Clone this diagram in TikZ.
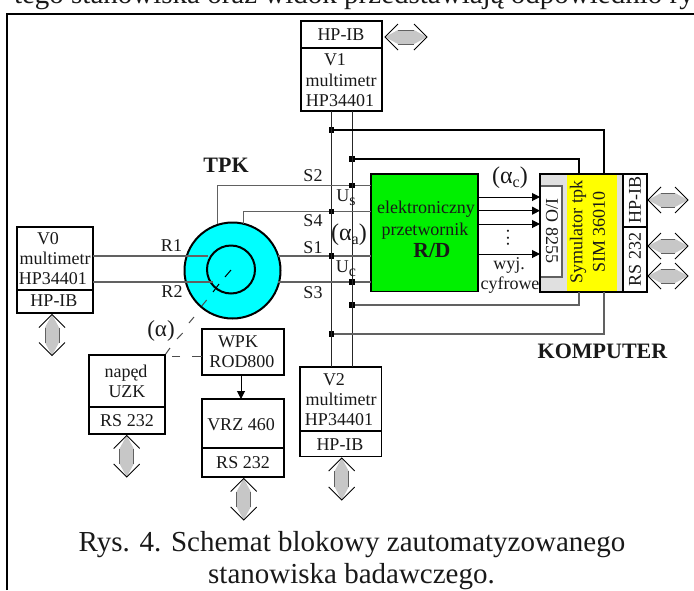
\documentclass[tikz,border=0pt]{standalone}
\usepackage{fontspec}
\setmainfont{Liberation Serif}
\usetikzlibrary{arrows.meta}
\definecolor{wire}{gray}{0.38}
\definecolor{bodygray}{gray}{0.78}
\definecolor{pcgray}{gray}{0.88}
\definecolor{rotorcyan}{RGB}{0,255,255}
\definecolor{simyellow}{RGB}{255,255,0}
\definecolor{rdgreen}{RGB}{0,240,0}
\newcommand{\fs}[1]{\fontsize{#1}{#1}\selectfont}
\newcommand{\sub}[1]{\raisebox{-4pt}{\fs{16}#1}}
% \bx[style]{name}{x1}{y1}{x2}{y2}
\newcommand{\bx}[6][]{%
  \pgfmathsetmacro{\bw}{#5-#3}\pgfmathsetmacro{\bh}{#6-#4}%
  \node[boxshape,#1,minimum width=\bw pt,minimum height=\bh pt] (#2) at ({(#3+#5)/2},{(#4+#6)/2}) {};}
% vertical and horizontal bus arrows
\newcommand{\varr}[4]{% name x ytop ybot
  \coordinate (#1) at (#2,#3);
  \fill[bodygray] (#2,#3) -- (#2-7,#3+13) -- (#2-7,#4-13) -- (#2,#4) -- (#2+7,#4-13) -- (#2+7,#3+13) -- cycle;
  \draw[wire,line width=.8pt] (#2-7,#3+13) -- (#2-7,#4-13) (#2+7,#3+13) -- (#2+7,#4-13);
  \draw[busline] (#2-13,#3+13) -- (#2,#3) -- (#2+13,#3+13) (#2-13,#4-13) -- (#2,#4) -- (#2+13,#4-13);}
\newcommand{\harr}[4]{% name y xleft xright
  \coordinate (#1) at (#3,#2);
  \fill[bodygray] (#3,#2) -- (#3+13,#2-7) -- (#4-13,#2-7) -- (#4,#2) -- (#4-13,#2+7) -- (#3+13,#2+7) -- cycle;
  \draw[wire,line width=.8pt] (#3+13,#2-7) -- (#4-13,#2-7) (#3+13,#2+7) -- (#4-13,#2+7);
  \draw[busline] (#3+13,#2-13) -- (#3,#2) -- (#3+13,#2+13) (#4-13,#2-13) -- (#4,#2) -- (#4-13,#2+13);}
\tikzset{
  boxshape/.style={draw=black,line width=1.8pt,fill=white,inner sep=0pt,outer sep=0pt,rectangle},
  busline/.style={draw=black,line width=.8pt,line join=miter},
  lbl/.style={inner sep=0pt,outer sep=0pt,text=black!90,font=\fs{18},anchor=base},
  rotlbl/.style={lbl,anchor=center},
  boldlbl/.style={lbl,font=\fs{22}\bfseries},
  captxt/.style={inner sep=0pt,outer sep=0pt,text=black!90,font=\fs{29},anchor=base},
  wireline/.style={draw=wire,line width=1.1pt},
  darkline/.style={draw=black!85,line width=1pt},
  thickline/.style={draw=black,line width=1.9pt},
  junction/.style={fill=black,inner sep=0pt,minimum size=5.5pt,rectangle,outer sep=0pt},
  sigarrow/.style={draw=black,line width=1pt,-{Triangle[length=8pt,width=8pt]}},
}
\begin{document}
\begin{tikzpicture}[x=1pt,y=-1pt]
\useasboundingbox (0,0) rectangle (694,590);
% page text and frame
\begin{scope}
\clip (0,0) rectangle (694,590);
\node[captxt,anchor=base west] (toptext) at (14,3) {tego stanowiska oraz widok przedstawiają odpowiednio ry};
\coordinate (frameTL) at (7,14);
\coordinate (frameTR) at (694,14);
\coordinate (frameBL) at (7,590);
\draw[line width=2.2pt,black] (frameBL) -- (frameTL) -- (frameTR);
\end{scope}
% rotor circles
\node[circle,draw=black,line width=2pt,fill=rotorcyan,minimum size=96pt,inner sep=0pt,outer sep=0pt] (tpk) at (232.5,270.5) {};
\node[circle,draw=black,line width=2pt,fill=rotorcyan,minimum size=48pt,inner sep=0pt,outer sep=0pt] (tpkin) at (231,269.5) {};
% boxes
\bx{v1ib}{301}{21}{382}{48}
\bx{v1}{301}{48}{382}{111}
\bx{v0}{17}{227}{93}{290}
\bx{v0ib}{17}{290}{93}{313}
\bx{v2}{300}{367}{381.5}{431}
\bx{v2ib}{300}{431}{381.5}{456.5}
\bx{uzk}{89}{355}{165}{407}
\bx{uzkrs}{89}{407}{165}{434}
\bx{wpk}{202}{329}{284}{375}
\bx{vrz}{202}{399}{284}{448}
\bx{vrzrs}{202}{448}{284}{477}
\bx[fill=rdgreen]{rd}{371}{174}{478}{291.5}
\bx[fill=pcgray]{pc}{540}{174}{647}{292}
\bx[draw=wire,line width=1.2pt]{io}{540}{186}{562}{277}
\bx[draw=none,fill=simyellow]{sim}{566.5}{175}{616.5}{291}
\bx[line width=1.2pt]{pcib}{623}{174}{647}{227}
\bx[line width=1.2pt]{pcrs}{623}{227}{647}{292}
\draw[line width=1.8pt,black] (pc.north west) rectangle (pc.south east);
% junctions
\node[junction] (ja) at (331.5,130) {};
\node[junction] (jb) at (331.5,211.5) {};
\node[junction] (jc) at (331.5,256) {};
\node[junction] (jd) at (331.5,334) {};
\node[junction] (je) at (352,159) {};
\node[junction] (jf) at (352,185.5) {};
\node[junction] (jg) at (352,282) {};
\node[junction] (jh) at (352,305) {};
% measurement buses
\draw[darkline] (v1.south -| ja) -- (v2.north -| ja);
\draw[darkline] (v1.south -| je) -- (v2.north -| je);
% signal wires
\coordinate (s2a) at (217.7,185.5);
\coordinate (s4a) at (243.5,211.5);
\draw[wireline] (s2a |- tpk.north) ++(0,1) -- (s2a) -- (jf) -- (rd.west |- jf);
\draw[wireline] (s4a |- tpk.north) ++(0,1) -- (s4a) -- (jb) -- (rd.west |- jb);
\draw[wireline] (tpk.east |- jc) ++(-3,0) -- (jc) -- (rd.west |- jc);
\draw[wireline] (tpk.east |- jg) ++(-3,0) -- (jg) -- (rd.west |- jg);
\draw[wireline] (v0.east |- jc) -- (208,256);
\draw[wireline] (v0.east |- jg) -- (213,282);
% computer feeds
\coordinate (pa) at (604,130);
\coordinate (pb) at (579,159);
\draw[thickline] (ja) -- (pa) -- (pa |- pc.north);
\draw[thickline] (je) -- (pb) -- (pb |- pc.north);
\draw[wireline] (jd) -- (pa |- jd) -- (pa |- pc.south);
\draw[wireline] (jh) -- (pb |- jh) -- (pb |- pc.south);
% angle marks
\coordinate (am1) at (231,270);
\coordinate (am2) at (165.7,354);
\draw[draw=black,line width=1pt] (am1) -- (225,277);
\draw[draw=black,line width=1pt] (219,284) -- (213,292);
\draw[draw=black!70,line width=1pt] (206.7,300) -- (201.7,306);
\draw[draw=black!70,line width=1pt] (194,317) -- (189,323);
\draw[draw=black!70,line width=1pt] (182.7,333) -- (177,339);
\draw[draw=black!70,line width=1pt] (170,348) -- (am2);
\draw[draw=black!70,line width=1pt] (wpk.west |- 0,356.5) -- (191.5,356.5) (180,356.5) -- (171.5,356.5);
% digital outputs
\foreach \yy/\nm in {197/a,210.7/b,224/c,254/d}{
  \coordinate (o\nm) at (rd.east |- 0,\yy);
  \draw[sigarrow] (o\nm) -- (pc.west |- o\nm);
}
\draw[sigarrow] (wpk.south -| 241,0) -- (vrz.north -| 241,0);
% bus arrows
\harr{h1}{37}{385}{427}
\harr{h2}{200}{648}{688}
\harr{h3}{246}{648}{688}
\harr{h4}{276}{648}{688}
\varr{a0}{52}{314.5}{355.5}
\varr{a1}{126.7}{435.5}{477}
\varr{a2}{243.7}{478.5}{520}
\varr{a3}{341.7}{458}{500}
% labels
\node[lbl] (t1) at (341,40.7) {HP-IB};
\node[lbl] (t2) at (335,65.7) {V1};
\node[lbl] (t3) at (341,86) {multimetr};
\node[lbl] (t4) at (340,106) {HP34401};
\node[lbl] (t5) at (48,244) {V0};
\node[lbl] (t6) at (55,264) {multimetr};
\node[lbl] (t7) at (53,284) {HP34401};
\node[lbl] (t8) at (54,306.7) {HP-IB};
\node[lbl] (t9) at (334,385) {V2};
\node[lbl] (t10) at (341,405) {multimetr};
\node[lbl] (t11) at (339,425) {HP34401};
\node[lbl] (t12) at (340,450) {HP-IB};
\node[lbl] (t13) at (126,377) {napęd};
\node[lbl] (t14) at (127,397.7) {UZK};
\node[lbl] (t15) at (127,426.7) {RS 232};
\node[lbl] (t16) at (238,347) {WPK};
\node[lbl] (t17) at (242,367) {ROD800};
\node[lbl] (t18) at (241,430) {VRZ 460};
\node[lbl] (t19) at (243,468) {RS 232};
\node[lbl] (t20) at (426,213) {elektroniczny};
\node[lbl] (t21) at (425,235) {przetwornik};
\node[boldlbl,font=\fs{21.5}\bfseries] (t22) at (432,257) {R/D};
\node[rotlbl,rotate=-90] (t23) at (552,231) {I/O 8255};
\node[rotlbl,rotate=90] (t24) at (578,232) {Symulator tpk};
\node[rotlbl,rotate=90] (t25) at (599,232) {SIM 36010};
\node[rotlbl,rotate=90] (t26) at (635,200) {HP-IB};
\node[rotlbl,rotate=90] (t27) at (635,259.5) {RS 232};
\node[lbl] (t28) at (509,269) {wyj.};
\node[lbl] (t29) at (510,289) {cyfrowe};
\node[rotlbl,rotate=90] (t30) at (508,238) {.\hspace{2.2pt}.\hspace{2.2pt}.};
\node[lbl,font=\fs{24}] (t32) at (510,183) {(α\sub{c})};
\node[lbl,font=\fs{24}] (t33) at (349,240) {(α\sub{a})};
\node[lbl,font=\fs{23}] (t34) at (161,336.7) {(α)};
\node[lbl] (t35) at (313,181) {S2};
\node[lbl] (t36) at (313,226.7) {S4};
\node[lbl] (t37) at (313,253) {S1};
\node[lbl] (t38) at (313,298) {S3};
\node[lbl] (t39) at (171.5,251.7) {R1};
\node[lbl] (t40) at (172,297) {R2};
\node[lbl] (t41) at (346,201.7) {U\sub{s}};
\node[lbl] (t42) at (346,272.7) {U\sub{c}};
\node[boldlbl] (t43) at (226,172.7) {TPK};
\node[boldlbl] (t44) at (602.5,358) {KOMPUTER};
\node[captxt] (t45) at (352,551.5) {Rys. 4. Schemat blokowy zautomatyzowanego};
\node[captxt] (t46) at (351.5,583) {stanowiska badawczego.};
\end{tikzpicture}
\end{document}
